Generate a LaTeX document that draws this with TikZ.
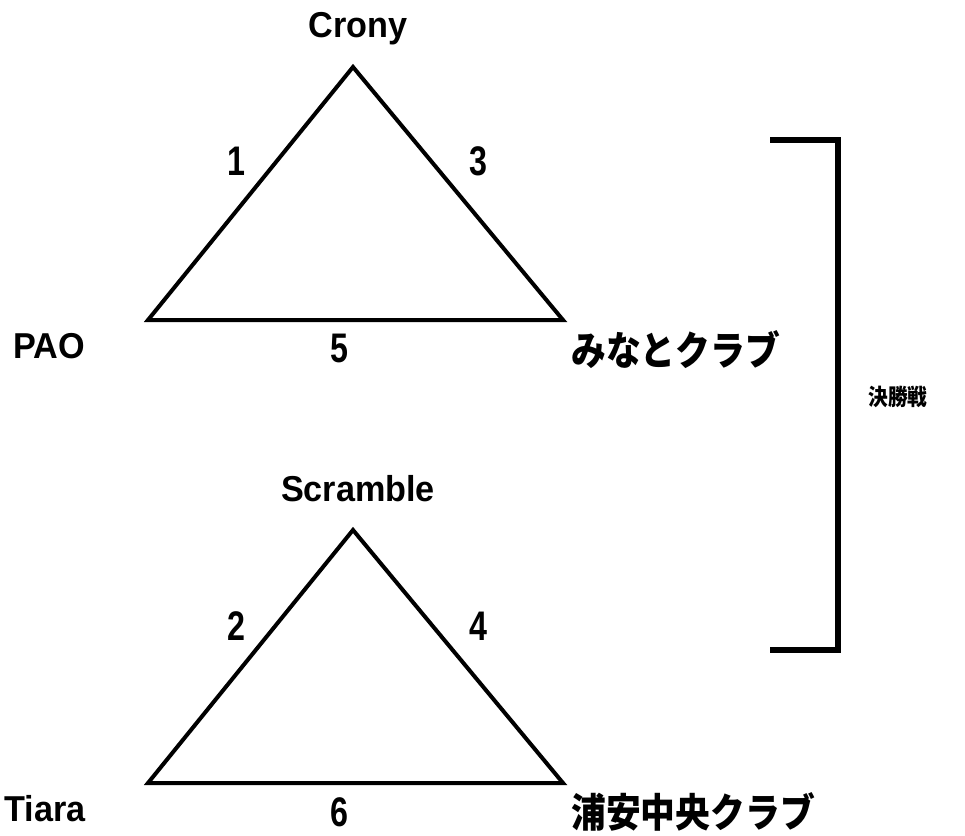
\documentclass[tikz,border=0pt]{standalone}
\usepackage{fontspec}
\setmainfont{Liberation Sans}[FakeStretch=0.95]
\newfontfamily\numfont{Liberation Sans}[FakeStretch=0.78]
\newfontfamily\jp{Noto Sans CJK JP}[FakeStretch=0.87]
\usepackage{tikz}
\usetikzlibrary{positioning, calc}

\begin{document}
\begin{tikzpicture}[x=0.75pt, y=-0.75pt,
  team/.style={inner sep=0pt, font=\fontsize{27}{29}\selectfont\bfseries, text height=19.3pt, text depth=0pt},
  jteam/.style={inner sep=0pt, anchor=west, font=\fontsize{30}{32}\selectfont\jp\bfseries},
  game/.style={inner sep=0pt, font=\fontsize{31}{33}\selectfont\numfont\bfseries, text height=22.2pt, text depth=0pt},
  edge/.style={line width=3pt, line join=miter},
  bracket/.style={line width=5pt, line join=miter}]
\useasboundingbox (0,0) rectangle (965,836);

% Pool A
\coordinate (aTop) at (353,67);
\coordinate (aLeft) at (148,320);
\coordinate (aRight) at (563,320);
\draw[edge] (aTop) -- (aRight) -- (aLeft) -- cycle;
\node[team] (crony) at (358,25) {Crony};
\node[team] (pao) at (49,346) {PAO};
\node[jteam] (minato) at (571,350) {みなとクラブ};
\node[game] (g1) at (236,161) {1};
\node[game] (g3) at (478,161) {3};
\node[game] (g5) at (339,348) {5};

% Pool B
\coordinate (bTop) at (353,530);
\coordinate (bLeft) at (148,783);
\coordinate (bRight) at (563,783);
\draw[edge] (bTop) -- (bRight) -- (bLeft) -- cycle;
\node[team] (scramble) at (358,489) {Scramble};
\node[team] (tiara) at (45,809) {Tiara};
\node[jteam] (urayasu) at (571,812) {浦安中央クラブ};
\node[game] (g2) at (236,626) {2};
\node[game] (g4) at (478,626) {4};
\node[game] (g6) at (339,812) {6};

% final
\coordinate (fTop) at (770,140);
\coordinate (fBot) at (770,650);
\draw[bracket] (fTop) -| (838,395) |- (fBot);
\node[inner sep=0pt, font=\fontsize{17}{19}\selectfont\jp\bfseries] (final) at (898,397) {決勝戦};
\end{tikzpicture}
\end{document}
